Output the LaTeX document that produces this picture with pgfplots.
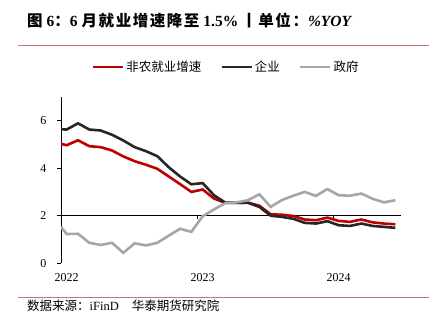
\documentclass[border=0pt]{standalone}
\usepackage{fontspec}
\setmainfont{Liberation Serif}
\newfontfamily\cjk{Noto Sans CJK SC}
\newfontfamily\cjkt[LetterSpace=10]{Noto Sans CJK SC}
\usepackage{pgfplots}
\pgfplotsset{compat=1.18}
\definecolor{cred}{RGB}{192,0,0}
\definecolor{cblack}{RGB}{38,38,38}
\definecolor{cgray}{RGB}{166,166,166}
\definecolor{sepred}{RGB}{218,110,110}
\begin{document}
\begin{tikzpicture}[x=1bp,y=1bp]
\path[use as bounding box] (0,0) rectangle (429,332);
% title
\node[anchor=base west, inner sep=0] at (27,305.5) {\fontsize{15.5bp}{18bp}\selectfont\bfseries{\cjkt 图}\hspace{4bp}6{\cjkt ：}6\hspace{4bp}{\cjkt 月就业增速降至}\hspace{4bp}1.5\%\hspace{3bp}{\cjkt 丨单位：}\textit{\%YOY}};
\draw[sepred, line width=1bp] (18,286) -- (429,286);
\draw[sepred, line width=1bp] (18,34.7) -- (429,34.7);
\node[anchor=base west, inner sep=0] at (27,21.5) {\fontsize{12.5bp}{15bp}\selectfont{\cjk 数据来源：}iFinD\hspace{13bp}{\cjk 华泰期货研究院}};
\begin{axis}[
  at={(61bp,68.7bp)}, anchor=south west,
  scale only axis, width=340bp, height=166.6bp,
  xmin=0, xmax=30, ymin=0, ymax=7,
  axis line style={draw=none},
  ytick={0,2,4,6}, ytick pos=left, tick align=outside,
  major tick length=4bp,
  y tick style={black, line width=0.8bp},
  xtick={0.5,12.5,24.5}, xticklabels={2022,2023,2024},
  xtick pos=bottom, x tick style={draw=none},
  tick label style={font=\fontsize{12bp}{14bp}\selectfont},
  /pgf/number format/assume math mode=true,
  yticklabel style={xshift=-7bp},
  xticklabel style={yshift=-3bp},
  legend columns=3,
  legend style={at={(0.09,1.178)}, anchor=west, draw=none, fill=none,
    font=\fontsize{12.5bp}{15bp}\selectfont\cjk, inner sep=0pt,
    /tikz/every even column/.append style={column sep=17bp}},
  legend image code/.code={\draw[#1, line width=2.6bp] (0bp,0bp) -- (30bp,0bp);},
  clip=true,
]
\draw[black, line width=0.8bp] (axis cs:0,0) -- (axis cs:0,7);
\draw[black, line width=0.8bp] (axis cs:0,2) -- (axis cs:30,2);
\draw[black, line width=0.8bp] (axis cs:12,2) -- ++(0bp,-3bp);
\draw[black, line width=0.8bp] (axis cs:24,2) -- ++(0bp,-3bp);
\addplot[cred, line width=2.6bp] coordinates {
(0,5.02)(0.5,4.96)(1.5,5.17)(2.5,4.92)(3.5,4.88)(4.5,4.74)(5.5,4.49)(6.5,4.29)(7.5,4.14)(8.5,3.97)(9.5,3.65)(10.5,3.33)(11.5,3.00)(12.5,3.10)(13.5,2.72)(14.5,2.54)(15.5,2.54)(16.5,2.55)(17.5,2.42)(18.5,2.06)(19.5,2.04)(20.5,1.99)(21.5,1.84)(22.5,1.81)(23.5,1.92)(24.5,1.78)(25.5,1.74)(26.5,1.84)(27.5,1.72)(28.5,1.67)(29.5,1.64)};
\addlegendentry{非农就业增速}
\addplot[cblack, line width=2.6bp] coordinates {
(0,5.63)(0.5,5.62)(1.5,5.88)(2.5,5.62)(3.5,5.58)(4.5,5.40)(5.5,5.16)(6.5,4.88)(7.5,4.71)(8.5,4.50)(9.5,4.04)(10.5,3.65)(11.5,3.32)(12.5,3.37)(13.5,2.86)(14.5,2.55)(15.5,2.54)(16.5,2.54)(17.5,2.37)(18.5,2.00)(19.5,1.95)(20.5,1.87)(21.5,1.70)(22.5,1.67)(23.5,1.77)(24.5,1.60)(25.5,1.57)(26.5,1.67)(27.5,1.57)(28.5,1.53)(29.5,1.49)};
\addlegendentry{企业}
\addplot[cgray, line width=2.6bp] coordinates {
(0,1.53)(0.5,1.23)(1.5,1.24)(2.5,0.86)(3.5,0.77)(4.5,0.86)(5.5,0.44)(6.5,0.84)(7.5,0.75)(8.5,0.86)(9.5,1.16)(10.5,1.45)(11.5,1.32)(12.5,1.98)(13.5,2.26)(14.5,2.53)(15.5,2.56)(16.5,2.65)(17.5,2.90)(18.5,2.37)(19.5,2.66)(20.5,2.84)(21.5,3.00)(22.5,2.83)(23.5,3.12)(24.5,2.86)(25.5,2.84)(26.5,2.93)(27.5,2.71)(28.5,2.56)(29.5,2.65)};
\addlegendentry{政府}
\end{axis}
\end{tikzpicture}
\end{document}
